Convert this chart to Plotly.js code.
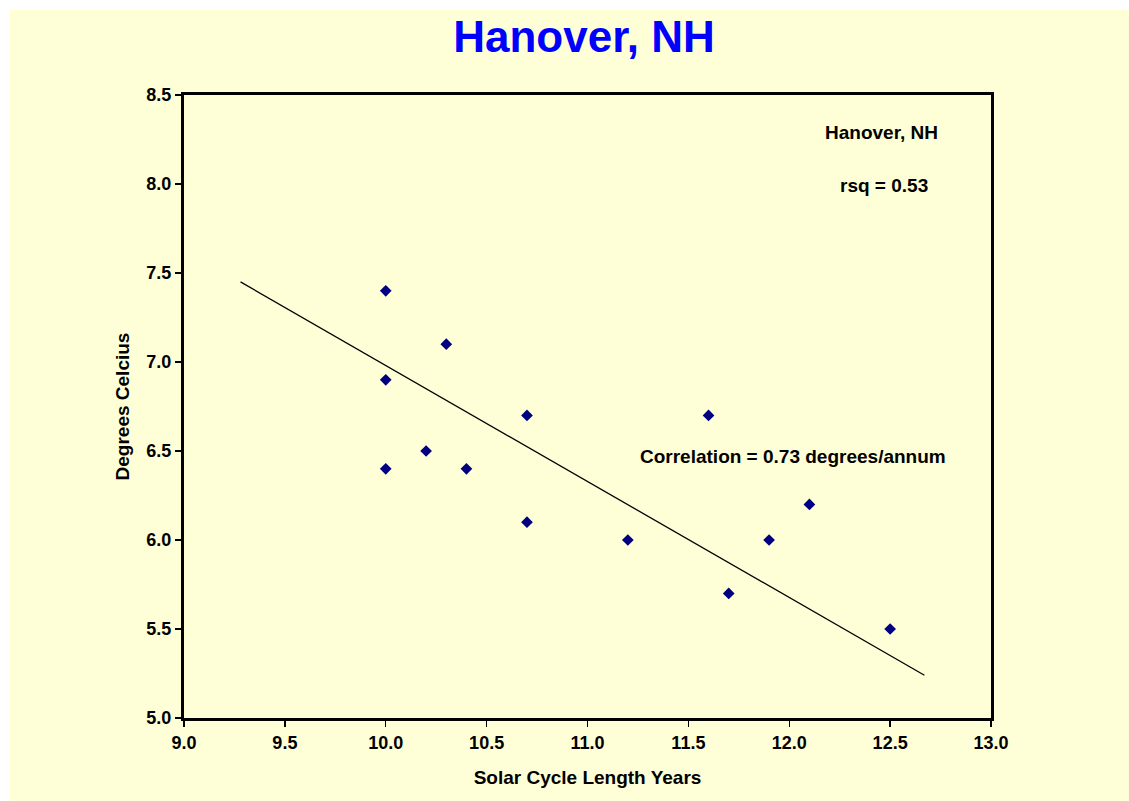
<!DOCTYPE html>
<html>
<head>
<meta charset="utf-8">
<script src="https://cdn.plot.ly/plotly-3.0.1.min.js"></script>
<style>
html,body{margin:0;padding:0;background:#ffffff;width:1129px;height:801px;overflow:hidden;}
#chart{position:absolute;left:10px;top:10px;width:1119px;height:791px;}
</style>
</head>
<body>
<div id="chart"></div>
<script>
const cycleLength = [10.0, 10.0, 10.0, 10.2, 10.3, 10.4, 10.7, 10.7, 11.2, 11.6, 11.7, 11.9, 12.1, 12.5];
const temperature = [7.4, 6.9, 6.4, 6.5, 7.1, 6.4, 6.7, 6.1, 6.0, 6.7, 5.7, 6.0, 6.2, 5.5];
const trendX = [9.28, 12.67];
const trendY = [7.45, 5.24];
const xTicks = [9.0, 9.5, 10.0, 10.5, 11.0, 11.5, 12.0, 12.5, 13.0];
const yTicks = [5.0, 5.5, 6.0, 6.5, 7.0, 7.5, 8.0, 8.5];

const bg = '#FFFFD7';
const font = 'Liberation Sans, Arial, sans-serif';

const traces = [
  {
    x: trendX, y: trendY, type: 'scatter', mode: 'lines',
    line: {color: '#000000', width: 1.3}, hoverinfo: 'skip', showlegend: false
  },
  {
    x: cycleLength, y: temperature, type: 'scatter', mode: 'markers',
    marker: {symbol: 'diamond', size: 9, color: '#000080'}, showlegend: false
  }
];

const layout = {
  width: 1119, height: 791,
  margin: {l: 174, r: 138, t: 85, b: 83},
  paper_bgcolor: bg, plot_bgcolor: bg,
  font: {family: font, color: '#000000'},
  title: {
    text: 'Hanover, NH', x: 0.513, xanchor: 'center', y: 0.966, yanchor: 'middle',
    font: {family: font, size: 44, color: '#0000FF', weight: 'bold'}
  },
  xaxis: {
    range: [9, 13], tickvals: xTicks, ticktext: xTicks.map(v => v.toFixed(1)),
    showgrid: false, zeroline: false,
    showline: true, mirror: true, linecolor: '#000000', linewidth: 3,
    ticks: 'outside', ticklen: 6, tickwidth: 1.3, tickcolor: '#000000',
    tickfont: {family: font, size: 18, weight: 'bold'},
    title: {text: 'Solar Cycle Length Years', standoff: 20, font: {family: font, size: 19, weight: 'bold'}}
  },
  yaxis: {
    range: [5, 8.5], tickvals: yTicks, ticktext: yTicks.map(v => v.toFixed(1)),
    showgrid: false, zeroline: false,
    showline: true, mirror: true, linecolor: '#000000', linewidth: 3,
    ticks: 'outside', ticklen: 6, tickwidth: 1.3, tickcolor: '#000000',
    tickfont: {family: font, size: 18, weight: 'bold'},
    title: {text: 'Degrees Celcius', standoff: 12, font: {family: font, size: 19, weight: 'bold'}}
  },
  annotations: [
    {x: 12.455, y: 8.287, xref: 'x', yref: 'y', text: 'Hanover, NH', showarrow: false,
     font: {family: font, size: 19, weight: 'bold'}},
    {x: 12.47, y: 7.994, xref: 'x', yref: 'y', text: 'rsq = 0.53', showarrow: false,
     font: {family: font, size: 19, weight: 'bold'}},
    {x: 12.02, y: 6.47, xref: 'x', yref: 'y', text: 'Correlation = 0.73 degrees/annum', showarrow: false,
     font: {family: font, size: 19, weight: 'bold'}}
  ]
};

Plotly.newPlot('chart', traces, layout, {displayModeBar: false, staticPlot: true});
</script>
</body>
</html>
